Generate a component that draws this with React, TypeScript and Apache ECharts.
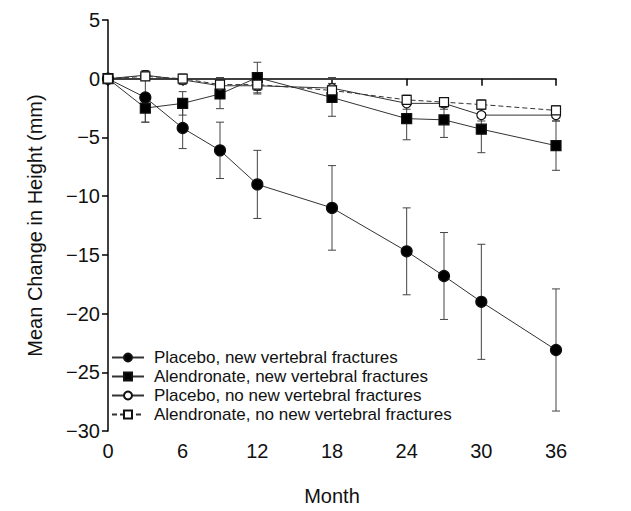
import React, { useEffect, useRef } from "react";
import * as echarts from "echarts";

const months = [0, 3, 6, 9, 12, 18, 24, 27, 30, 36];

const seriesNames = [
  "Placebo, new vertebral fractures",
  "Alendronate, new vertebral fractures",
  "Placebo, no new vertebral fractures",
  "Alendronate, no new vertebral fractures",
];

const placeboNew = [0, -1.6, -4.2, -6.1, -9.0, -11.0, -14.7, -16.8, -19.0, -23.1];
const placeboNewErr = [0, 2.1, 1.75, 2.4, 2.9, 3.6, 3.7, 3.7, 4.9, 5.2];

const alendNew = [0, -2.5, -2.1, -1.3, 0.1, -1.6, -3.4, -3.5, -4.3, -5.7];
const alendNewErr = [0, 1.2, 1.0, 1.25, 1.3, 1.6, 1.8, 1.5, 2.0, 2.1];

const placeboNo = [0, 0.3, -0.1, -0.6, -0.6, -0.8, -2.1, -2.1, -3.1, -3.1];
const placeboNoErr = [0, 0.4, 0.4, 0.7, 0.7, 0.9, 0.5, 0.5, 0.5, 0.5];

const alendNo = [0, 0.2, 0, -0.5, -0.5, -1.0, -1.8, -2.0, -2.2, -2.7];
const alendNoErr = [0, 0.3, 0.4, 0.6, 0.5, 0.6, 0.4, 0.4, 0.4, 0.4];

const zeroLineEnd = 37.3;

const FONT = "'Liberation Sans', Arial, Helvetica, sans-serif";

export default function App() {
  const ref = useRef<HTMLDivElement>(null);

  useEffect(() => {
    if (!ref.current) return;
    const chart = echarts.init(ref.current, undefined, { renderer: "svg" });

    const groups = [
      { name: seriesNames[0], vals: placeboNew, errs: placeboNewErr, symbol: "circle", size: 11, fill: "#000", dash: "solid" },
      { name: seriesNames[1], vals: alendNew, errs: alendNewErr, symbol: "rect", size: 10, fill: "#000", dash: "solid" },
      { name: seriesNames[2], vals: placeboNo, errs: placeboNoErr, symbol: "circle", size: 9, fill: "#fff", dash: "solid" },
      { name: seriesNames[3], vals: alendNo, errs: alendNoErr, symbol: "rect", size: 9, fill: "#fff", dash: [5, 3] },
    ];

    const errData: number[][] = [];
    groups.forEach((g) => {
      months.forEach((m, i) => {
        if (g.errs[i] > 0) errData.push([m, g.vals[i], g.errs[i]]);
      });
    });

    const lineSeries = groups.map((g) => ({
      name: g.name,
      type: "line",
      z: 3,
      data: months.map((m, i) => [m, g.vals[i]]),
      symbol: g.symbol,
      symbolSize: g.size,
      showAllSymbol: true,
      lineStyle: { color: "#333", width: 1, type: g.dash },
      itemStyle: { color: g.fill, borderColor: "#111", borderWidth: 1.2 },
      emphasis: { disabled: true },
    }));

    const option: any = {
      animation: false,
      grid: { left: 100, right: 67, top: 12, bottom: 80, containLabel: false, outerBoundsMode: "none" },
      legend: {
        data: seriesNames,
        orient: "vertical",
        left: 98,
        top: 336,
        itemWidth: 32,
        itemHeight: 10,
        itemGap: 2,
        textStyle: { fontFamily: FONT, fontSize: 17, color: "#111", padding: [0, 0, 0, 5] },
        selectedMode: false,
      },
      xAxis: {
        type: "value",
        min: 0,
        max: 36,
        interval: 6,
        name: "Month",
        nameLocation: "middle",
        nameGap: 55,
        nameTextStyle: { fontFamily: FONT, fontSize: 20, color: "#111" },
        axisLine: { show: true, lineStyle: { color: "#000", width: 1.5 } },
        axisTick: { show: true, inside: false, length: 7, lineStyle: { color: "#000", width: 1.5 } },
        axisLabel: { fontFamily: FONT, fontSize: 20, color: "#111", margin: 10 },
        splitLine: { show: false },
      },
      yAxis: {
        type: "value",
        min: -30,
        max: 5,
        interval: 5,
        name: "Mean Change in Height (mm)",
        nameLocation: "middle",
        nameGap: 63,
        nameTextStyle: { fontFamily: FONT, fontSize: 20, color: "#111" },
        axisLine: { show: true, lineStyle: { color: "#000", width: 1.5 } },
        axisTick: { show: true, inside: false, length: 6, lineStyle: { color: "#000", width: 1.5 } },
        axisLabel: {
          fontFamily: FONT,
          fontSize: 20,
          color: "#111",
          margin: 8,
          formatter: (v: number) => (v < 0 ? "\u2212" + Math.abs(v) : String(v)),
        },
        splitLine: { show: false },
      },
      series: [
        {
          type: "custom",
          name: "errors",
          z: 2,
          data: errData,
          encode: { x: 0, y: 1 },
          renderItem: (params: any, api: any) => {
            const x = api.value(0);
            const y = api.value(1);
            const e = api.value(2);
            const top = api.coord([x, y + e]);
            const bot = api.coord([x, y - e]);
            const w = 4;
            const st = { stroke: "#444", lineWidth: 1 };
            return {
              type: "group",
              children: [
                { type: "line", shape: { x1: top[0], y1: top[1], x2: bot[0], y2: bot[1] }, style: st },
                { type: "line", shape: { x1: top[0] - w, y1: top[1], x2: top[0] + w, y2: top[1] }, style: st },
                { type: "line", shape: { x1: bot[0] - w, y1: bot[1], x2: bot[0] + w, y2: bot[1] }, style: st },
              ],
            };
          },
        },
        {
          type: "line",
          name: "zero",
          z: 1,
          clip: false,
          data: [],
          markLine: {
            silent: true,
            symbol: "none",
            label: { show: false },
            lineStyle: { color: "#777", width: 1, type: "solid" },
            data: [[{ coord: [0, 0] }, { coord: [zeroLineEnd, 0] }]],
          },
        },
        ...lineSeries,
      ],
    };

    chart.setOption(option);
    return () => chart.dispose();
  }, []);

  return <div ref={ref} style={{ width: 615, height: 503 }} />;
}
